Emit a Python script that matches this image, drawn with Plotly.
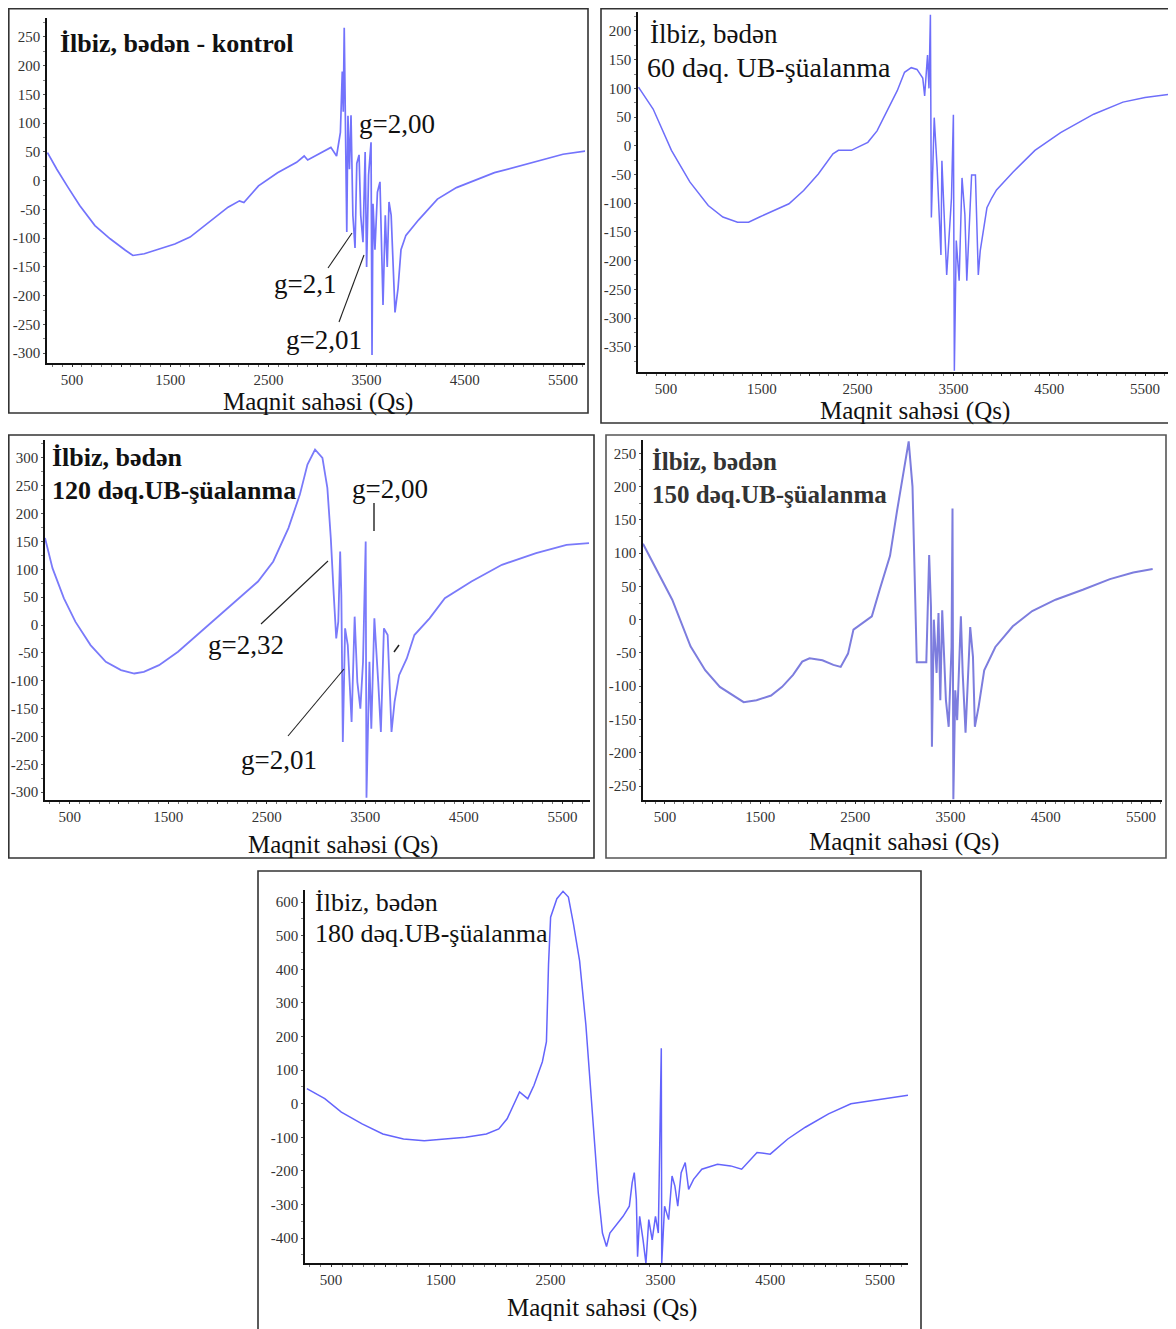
import plotly.graph_objects as go

W, H = 1176, 1329
OFF = 8  # the page body adds an 8px margin; compensate so pixel positions match

# ---------------- data ----------------
x_ticks = [500, 1000, 1500, 2000, 2500, 3000, 3500, 4000, 4500, 5000, 5500]
x_ticktext = ["500", "", "1500", "", "2500", "", "3500", "", "4500", "", "5500"]

# Panel 1: control
x1 = [250, 345, 461, 578, 733, 888, 1043, 1120, 1236, 1391, 1547, 1702, 1895, 2089, 2205, 2250, 2399, 2593,
      2787, 2864, 2900, 2942, 3000, 3058, 3136, 3194, 3233, 3252, 3262, 3272, 3285, 3298, 3310, 3325, 3341,
      3360, 3382, 3400, 3423, 3440, 3463, 3485, 3500, 3520, 3545, 3555, 3565, 3585, 3610, 3636, 3667, 3690,
      3710, 3728, 3750, 3769, 3789, 3820, 3850, 3900, 3950, 4030, 4221, 4415, 4802, 5190, 5500, 5740]
y1 = [49, 20, -12, -43, -78, -101, -121, -130, -127, -118, -110, -98, -72, -46, -35, -38, -9, 14,
      32, 43, 36, 40, 45, 52, 58, 43, 84, 190, 120, 266, 110, -89, 113, 20, 114,
      -60, -117, 30, 45, -60, -107, 50, -150, 10, 67, -303, -40, -120, -20, -2, -216, -60,
      -150, -37, -60, -129, -229, -187, -120, -95, -85, -68, -32, -12, 14, 32, 46, 52]

# Panel 2: 60 min UV
x2 = [213, 366, 557, 749, 941, 1094, 1247, 1362, 1477, 1630, 1784, 1937, 2090, 2243, 2300, 2435, 2607, 2703,
      2818, 2914, 2990, 3060, 3120, 3180, 3200, 3230, 3245, 3260, 3270, 3300, 3330, 3370, 3380, 3400, 3430,
      3480, 3500, 3510, 3530, 3560, 3590, 3620, 3640, 3690, 3730, 3760, 3780, 3850, 3900, 3950, 4040, 4121,
      4351, 4619, 4964, 5270, 5500, 5768]
y2 = [102, 64, -8, -63, -104, -124, -133, -133, -124, -113, -101, -78, -49, -14, -8, -8, 6, 26,
      64, 96, 128, 136, 133, 118, 87, 158, 100, 228, -125, 49, -38, -190, -26, -120, -225,
      -91, 54, -392, -165, -235, -56, -120, -235, -51, -51, -225, -183, -108, -91, -77, -60, -46,
      -8, 23, 55, 76, 84, 90]

# Panel 3: 120 min UV
x3 = [250, 326, 442, 558, 712, 867, 1021, 1156, 1253, 1407, 1600, 1793, 2025, 2218, 2411, 2566, 2720, 2836,
      2913, 2990, 3065, 3115, 3150, 3180, 3205, 3226, 3245, 3257, 3272, 3295, 3322, 3361, 3392, 3419, 3450,
      3477, 3504, 3512, 3542, 3561, 3592, 3631, 3658, 3689, 3727, 3766, 3797, 3843, 3921, 3998, 4152, 4307,
      4577, 4886, 5233, 5542, 5770]
y3 = [156, 102, 48, 6, -36, -66, -81, -87, -84, -72, -48, -18, 18, 48, 78, 114, 174, 234,
      288, 315, 300, 246, 156, 54, -24, 6, 132, 54, -210, -6, -36, -174, 15, -102, -150,
      -66, 150, -310, -66, -186, 12, -102, -192, -6, -18, -192, -138, -90, -60, -18, 12, 48,
      78, 108, 129, 144, 147]

# Panel 4: 150 min UV
x4 = [270, 423, 577, 769, 923, 1077, 1231, 1327, 1462, 1615, 1731, 1846, 1942, 2019, 2154, 2269, 2346, 2423,
      2480, 2577, 2673, 2755, 2864, 2936, 2990, 3060, 3100, 3145, 3245, 3265, 3275, 3294, 3304, 3324, 3353,
      3373, 3392, 3412, 3451, 3480, 3510, 3520, 3529, 3549, 3569, 3608, 3627, 3657, 3706, 3735, 3755, 3794,
      3853, 3970, 4153, 4357, 4602, 4888, 5173, 5418, 5622]
y4 = [114, 71, 30, -40, -76, -101, -116, -124, -121, -114, -101, -83, -63, -58, -61, -68, -71, -51,
      -15, -5, 5, 45, 96, 162, 210, 268, 200, -64, -64, 49, 97, 19, -191, 0, -80,
      10, -121, 14, -121, -161, -41, 167, -270, -106, -151, 5, -80, -170, -11, -56, -161, -131,
      -76, -41, -10, 13, 30, 45, 61, 71, 76]

# Panel 5: 180 min UV
x5 = [280, 443, 594, 783, 972, 1160, 1349, 1538, 1726, 1915, 2028, 2104, 2160, 2217, 2255, 2292, 2349, 2425,
      2462, 2481, 2500, 2557, 2613, 2662, 2708, 2764, 2821, 2858, 2896, 2934, 2972, 3009, 3040, 3085, 3160,
      3217, 3243, 3262, 3281, 3292, 3311, 3342, 3368, 3394, 3425, 3455, 3481, 3508, 3512, 3538, 3575, 3606,
      3632, 3658, 3689, 3726, 3757, 3802, 3877, 4020, 4140, 4240, 4380, 4500, 4660, 4820, 5031, 5235, 5439,
      5643, 5755]
y5 = [45, 15, -25, -60, -90, -105, -110, -105, -100, -90, -75, -45, -5, 35, 25, 15, 55, 125,
      185, 415, 555, 610, 632, 615, 535, 425, 235, 65, -85, -265, -385, -425, -385, -365, -335,
      -305, -235, -205, -285, -455, -335, -405, -475, -345, -405, -335, -385, 165, -475, -305, -345, -215,
      -245, -305, -205, -175, -255, -225, -195, -180, -185, -195, -145, -150, -105, -70, -30, 0, 10,
      20, 25]

yticks1 = [250, 200, 150, 100, 50, 0, -50, -100, -150, -200, -250, -300]
yticks2 = [200, 150, 100, 50, 0, -50, -100, -150, -200, -250, -300, -350]
yticks3 = [300, 250, 200, 150, 100, 50, 0, -50, -100, -150, -200, -250, -300]
yticks4 = [250, 200, 150, 100, 50, 0, -50, -100, -150, -200, -250]
yticks5 = [600, 500, 400, 300, 200, 100, 0, -100, -200, -300, -400]

title_line1 = "İlbiz, bədən"
titles = ["İlbiz, bədən - kontrol", "60 dəq. UB-şüalanma", "120 dəq.UB-şüalanma",
          "150 dəq.UB-şüalanma", "180 dəq.UB-şüalanma"]
xlabel = "Maqnit sahəsi (Qs)"

# ---------------- layout helpers ----------------
def fx(p):
    return (p - OFF) / W

def fy(p):
    return 1 - (p - OFF) / H

SERIF = "Liberation Serif"

panels = [
    dict(x=x1, y=y1, color="rgb(115,115,252)", lw=1.7, frame=(8.8, 8.8, 588, 413), ax=(47, 585, 18, 363),
         xr=[245, 5724], yr=[-317, 283], yt=yticks1, ydt=25),
    dict(x=x2, y=y2, color="rgb(110,110,250)", lw=1.5, frame=(601, 8.8, 1170, 423), ax=(638, 1168, 12, 372),
         xr=[208, 5740], yr=[-394, 233], yt=yticks2, ydt=25),
    dict(x=x3, y=y3, color="rgb(122,122,250)", lw=1.8, frame=(8.8, 435, 594, 858), ax=(45, 590, 440, 800),
         xr=[250, 5780], yr=[-314, 332], yt=yticks3, ydt=25),
    dict(x=x4, y=y4, color="rgb(125,125,222)", lw=2.0, frame=(606, 435, 1166, 858), ax=(643, 1162, 440, 800),
         xr=[270, 5720], yr=[-271, 270], yt=yticks4, ydt=25),
    dict(x=x5, y=y5, color="rgb(100,100,252)", lw=1.5, frame=(258, 871, 921, 1345), ax=(305, 908, 890, 1263),
         xr=[263, 5755], yr=[-474, 636], yt=yticks5, ydt=50),
]

fig = go.Figure()
layout = dict(width=W, height=H, margin=dict(l=0, r=0, t=0, b=0),
              paper_bgcolor="white", plot_bgcolor="white", showlegend=False)
shapes = []
annotations = []

for i, p in enumerate(panels, start=1):
    sfx = "" if i == 1 else str(i)
    fig.add_trace(go.Scatter(x=p["x"], y=p["y"], mode="lines",
                             line=dict(color=p["color"], width=p["lw"]),
                             xaxis="x" + sfx, yaxis="y" + sfx, hoverinfo="skip"))
    l, r, t, b = p["ax"]
    layout["xaxis" + sfx] = dict(
        domain=[fx(l), fx(r)], range=p["xr"], anchor="y" + sfx,
        showline=True, linecolor="#111", linewidth=1.6, showgrid=False, zeroline=False,
        tickmode="array", tickvals=x_ticks, ticktext=x_ticktext,
        ticks="outside", ticklen=2, tickcolor="#333", tickwidth=1,
        minor=dict(ticks="outside", ticklen=2, dtick=100, tick0=0, tickcolor="#777"),
        tickfont=dict(family=SERIF, size=15, color="#333"), fixedrange=True)
    layout["yaxis" + sfx] = dict(
        domain=[fy(b), fy(t)], range=p["yr"], anchor="x" + sfx,
        showline=True, linecolor="#111", linewidth=1.6, showgrid=False, zeroline=False,
        tickmode="array", tickvals=p["yt"], ticktext=[str(v) for v in p["yt"]],
        ticks="outside", ticklen=2, tickcolor="#555", tickwidth=1,
        minor=dict(ticks="outside", ticklen=2, dtick=p["ydt"], tick0=0, tickcolor="#888"),
        tickfont=dict(family=SERIF, size=15, color="#333"), fixedrange=True)
    fl, ft, fr, fb = p["frame"]
    shapes.append(dict(type="rect", xref="paper", yref="paper",
                       x0=fx(fl), x1=fx(fr), y0=fy(fb), y1=fy(ft),
                       line=dict(color="#333" if i != 4 else "#555", width=1.6)))

def txt(text, xpix, ypix, size, bold=False, anchor="left", color="#111"):
    annotations.append(dict(text=("<b>%s</b>" % text) if bold else text,
                            x=fx(xpix), y=fy(ypix), xref="paper", yref="paper",
                            xanchor=anchor, yanchor="middle", showarrow=False,
                            font=dict(family=SERIF, size=size, color=color)))

# panel titles
txt(titles[0], 58, 43, 26, bold=True)
txt(title_line1, 648, 34, 27)
txt(titles[1], 645, 67, 28)
txt(title_line1, 50, 457, 26, bold=True)
txt(titles[2], 50, 491, 26, bold=True)
txt(title_line1, 650, 461, 25, bold=True, color="#333")
txt(titles[3], 650, 494, 25, bold=True, color="#333")
txt(title_line1, 313, 902, 26)
txt(titles[4], 313, 933, 26)

# x-axis titles
txt(xlabel, 318, 402, 25, anchor="center")
txt(xlabel, 915, 411, 25, anchor="center")
txt(xlabel, 343, 845, 25, anchor="center")
txt(xlabel, 904, 842, 25, anchor="center")
txt(xlabel, 602, 1308, 25, anchor="center")

# g-factor labels
txt("g=2,00", 357, 124, 27)
txt("g=2,1", 272, 284, 27)
txt("g=2,01", 284, 340, 27)
txt("g=2,00", 350, 489, 27)
txt("g=2,32", 206, 645, 27)
txt("g=2,01", 239, 760, 27)

def seg(x0, y0, x1p, y1p, w=1.1):
    shapes.append(dict(type="line", xref="paper", yref="paper",
                       x0=fx(x0), y0=fy(y0), x1=fx(x1p), y1=fy(y1p),
                       line=dict(color="#222", width=w)))

# leader lines
seg(328, 268, 352, 233)
seg(339, 322, 364, 255)
seg(374, 503, 374, 531, 1.4)
seg(261, 624, 328, 561)
seg(288, 736, 344, 669)
seg(394, 652, 399, 645, 1.5)

layout["shapes"] = shapes
layout["annotations"] = annotations
fig.update_layout(**layout)
fig.write_html("out.html")
